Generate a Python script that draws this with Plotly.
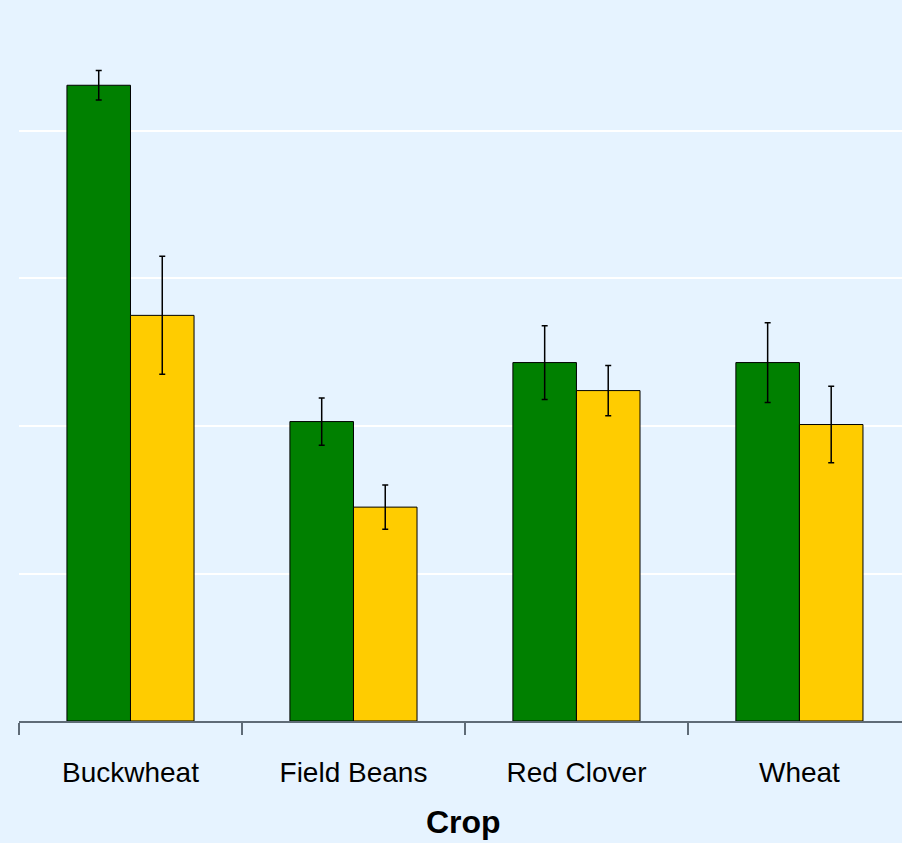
import plotly.graph_objects as go

# Crop categories and the two treatment series (mean and error half-width)
crops = ["Buckwheat", "Field Beans", "Red Clover", "Wheat"]
green_vals = [4.31, 2.03, 2.43, 2.43]
green_err = [0.10, 0.16, 0.25, 0.27]
yellow_vals = [2.75, 1.45, 2.24, 2.01]
yellow_err = [0.40, 0.15, 0.17, 0.26]

BG = "#E6F3FF"
AXIS_GREY = "#5F6B77"

fig = go.Figure()
fig.add_trace(go.Bar(
    x=crops, y=green_vals, name="Green",
    marker=dict(color="#008000", line=dict(color="black", width=1)),
    error_y=dict(type="data", array=green_err, color="black", thickness=1.5, width=3),
))
fig.add_trace(go.Bar(
    x=crops, y=yellow_vals, name="Yellow",
    marker=dict(color="#FFCC00", line=dict(color="black", width=1)),
    error_y=dict(type="data", array=yellow_err, color="black", thickness=1.5, width=3),
))

fig.update_layout(
    width=902, height=843,
    margin=dict(l=19, r=0, t=0, b=122),
    paper_bgcolor=BG, plot_bgcolor=BG,
    barmode="group", bargap=0.43, bargroupgap=0,
    showlegend=False,
    font=dict(family="Liberation Sans, Arial, sans-serif", color="black"),
    xaxis=dict(
        type="category", range=[-0.5, 3.46],
        showline=True, linecolor=AXIS_GREY, linewidth=1.5,
        ticks="outside", tickson="boundaries", ticklen=12, tickwidth=1.5, tickcolor=AXIS_GREY,
        tickfont=dict(size=28), ticklabelstandoff=26, showgrid=False,
    ),
    yaxis=dict(
        range=[0, 4.888], dtick=1, showticklabels=False,
        showgrid=True, gridcolor="white", gridwidth=1.5,
        zeroline=False, showline=False, ticks="",
    ),
    annotations=[dict(
        text="<b>Crop</b>", xref="paper", yref="paper", x=0.503, y=-0.140,
        xanchor="center", yanchor="middle", showarrow=False,
        font=dict(size=32, color="black"),
    )],
)

fig.write_html("out.html")
